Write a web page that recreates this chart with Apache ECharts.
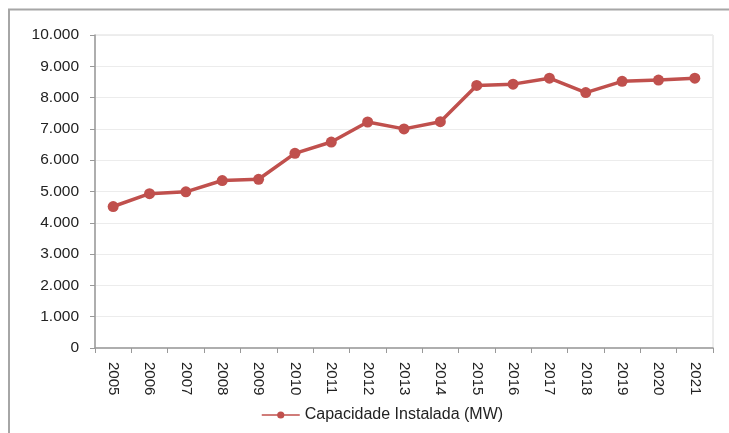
<!DOCTYPE html>
<html>
<head>
<meta charset="utf-8">
<script src="https://cdn.jsdelivr.net/npm/echarts@6/dist/echarts.min.js"></script>
<style>
html,body{margin:0;padding:0;background:#fff;}
#chart{width:729px;height:433px;}
</style>
</head>
<body>
<div id="chart"></div>
<script>
var years = ['2005','2006','2007','2008','2009','2010','2011','2012','2013','2014','2015','2016','2017','2018','2019','2020','2021'];
var capacity = [4520, 4930, 4990, 5350, 5390, 6220, 6580, 7220, 7000, 7230, 8390, 8430, 8620, 8160, 8520, 8560, 8620];
var seriesName = 'Capacidade Instalada (MW)';

var chart = echarts.init(document.getElementById('chart'));
chart.setOption({
  animation: false,
  backgroundColor: '#fff',
  textStyle: { fontFamily: 'Liberation Sans, Arial, sans-serif' },
  graphic: [{
    type: 'rect',
    shape: { x: 9, y: 9.5, width: 800, height: 500 },
    style: { fill: 'none', stroke: '#a6a6a6', lineWidth: 2 },
    silent: true
  }],
  grid: {
    left: 95, top: 35, right: 16, bottom: 85,
    show: true, borderColor: '#dcdcdc', borderWidth: 1
  },
  legend: {
    data: [seriesName],
    left: 256, top: 402,
    itemWidth: 38, itemHeight: 9, itemGap: 5,
    lineStyle: { width: 1.5 },
    textStyle: { fontSize: 16, color: '#222' }
  },
  xAxis: {
    type: 'category',
    data: years,
    boundaryGap: true,
    axisLine: { lineStyle: { color: '#999', width: 1.5 } },
    axisTick: { show: true, length: 5, alignWithLabel: false, lineStyle: { color: '#999' } },
    axisLabel: { rotate: -90, fontSize: 15, color: '#222', margin: 14 }
  },
  yAxis: {
    type: 'value',
    min: 0, max: 10000, interval: 1000,
    axisLine: { show: true, lineStyle: { color: '#999', width: 1.5 } },
    axisTick: { show: true, length: 5, lineStyle: { color: '#999' } },
    splitLine: { lineStyle: { color: '#ececec', width: 1 } },
    axisLabel: {
      fontSize: 15.5, color: '#222', margin: 16,
      formatter: function (v) { return v === 0 ? '0' : v.toLocaleString('de-DE'); }
    }
  },
  series: [{
    name: seriesName,
    type: 'line',
    data: capacity,
    symbol: 'circle',
    symbolSize: 11,
    lineStyle: { color: '#C0504D', width: 3.5 },
    itemStyle: { color: '#C0504D' }
  }]
});
</script>
</body>
</html>
